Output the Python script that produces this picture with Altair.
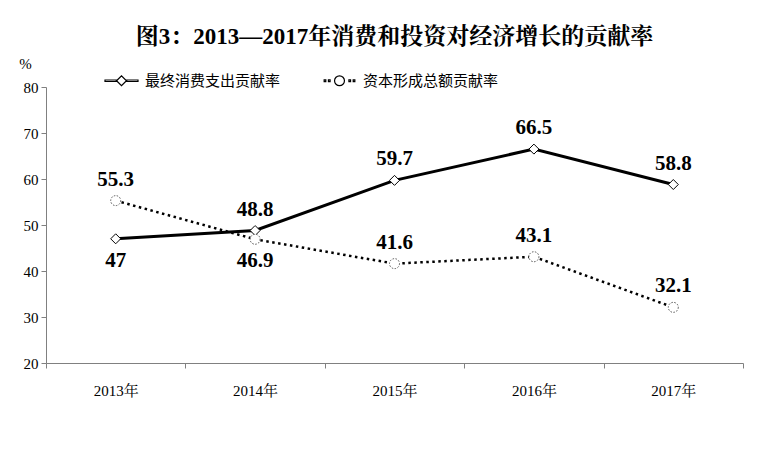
import altair as alt
import pandas as pd

years = ["2013年", "2014年", "2015年", "2016年", "2017年"]
consumption = [47, 48.8, 59.7, 66.5, 58.8]
capital = [55.3, 46.9, 41.6, 43.1, 32.1]
series_names = ["最终消费支出贡献率", "资本形成总额贡献率"]
# which value labels sit under their point
consumption_label_below = ["2013年"]
capital_label_below = ["2014年"]

rows = []
for y, v in zip(years, consumption):
    rows.append({"year": y, "series": series_names[0], "value": v,
                 "pos": "below" if y in consumption_label_below else "above"})
for y, v in zip(years, capital):
    rows.append({"year": y, "series": series_names[1], "value": v,
                 "pos": "below" if y in capital_label_below else "above"})
df = pd.DataFrame(rows)
legend_df = pd.DataFrame({"series": series_names})

SERIF = "Liberation Serif, Times New Roman, Noto Serif CJK SC, Noto Sans CJK SC, serif"

x_enc = alt.X("year:N", sort=years, bandPosition=0.5,
              scale=alt.Scale(type="band", paddingInner=0, paddingOuter=0),
              axis=alt.Axis(title=None, labelAngle=0, domainColor="#808080",
                            tickColor="#808080", tickSize=5, tickBand="extent",
                            labelFont=SERIF, labelFontSize=15, labelColor="black",
                            labelPadding=15, grid=False))
y_enc = alt.Y("value:Q", scale=alt.Scale(domain=[20, 80], nice=False),
              axis=alt.Axis(values=[20, 30, 40, 50, 60, 70, 80], grid=False,
                            domainColor="#808080", tickColor="#808080", tickSize=5,
                            labelFont=SERIF, labelFontSize=15, labelColor="black",
                            labelPadding=3, title="%", titleAngle=0, titleX=-21,
                            titleY=-24, titleFont=SERIF, titleFontWeight="normal",
                            titleFontSize=15, titleAlign="center",
                            titleBaseline="middle", titleColor="black"))

base = alt.Chart(df).encode(x=x_enc, y=y_enc)
cons = base.transform_filter(alt.datum.series == series_names[0])
capi = base.transform_filter(alt.datum.series == series_names[1])

cons_line = cons.mark_line(color="black", strokeWidth=3)
capi_line = capi.mark_line(color="black", strokeWidth=2.5, strokeDash=[2.5, 3.5])
cons_pts = cons.mark_point(shape="diamond", size=100, fill="white", stroke="black",
                           strokeWidth=1, opacity=1, filled=False)
capi_pts = capi.mark_point(shape="circle", size=100, fill="white", stroke="#555555",
                           strokeWidth=1, strokeDash=[1.5, 1.5], opacity=1, filled=False)

txt_kw = dict(font=SERIF, fontWeight="bold", fontSize=21,
              baseline="middle", color="black")
labels_above = base.transform_filter(alt.datum.pos == "above").mark_text(dy=-21, **txt_kw).encode(
    text=alt.Text("value:Q"))
labels_below = base.transform_filter(alt.datum.pos == "below").mark_text(dy=22, **txt_kw).encode(
    text=alt.Text("value:Q"))

# legend symbols: solid bar + diamond, and dots + circle (unit-square paths)
path_a = ("M-1,-0.045L-0.32,-0.045L-0.32,0.045L-1,0.045Z"
          "M0.32,-0.045L1,-0.045L1,0.045L0.32,0.045Z"
          "M-0.3,0L0,-0.3L0.3,0L0,0.3Z")
path_b = "".join("M{:.2f},-0.05h0.1v0.1h-0.1Z".format(c - 0.05)
                 for c in (-0.88, -0.62, 0.62, 0.88))
path_b += "M0.3,0A0.3,0.3,0,1,1,-0.3,0A0.3,0.3,0,1,1,0.3,0Z"

legend_layer = alt.Chart(legend_df).transform_filter(
    alt.datum.series == "__none__"
).mark_point(
    fill="white", stroke="black", strokeWidth=1.2, opacity=1, filled=False
).encode(
    shape=alt.Shape("series:N",
                    scale=alt.Scale(domain=series_names, range=[path_a, path_b]),
                    legend=alt.Legend(orient="none", legendX=58, legendY=-24,
                                      direction="horizontal", title=None,
                                      symbolSize=1089, labelFont="Noto Sans CJK SC",
                                      labelFontSize=15, labelColor="black",
                                      labelOffset=6, columnPadding=40,
                                      symbolStrokeWidth=1.2, labelLimit=300)),
)

chart = alt.layer(
    legend_layer, cons_line, capi_line, cons_pts, capi_pts, labels_above, labels_below
).properties(
    width=697, height=276,
    autosize=alt.AutoSizeParams(type="none"),
    padding={"left": 38, "top": 79, "right": 5, "bottom": 40},
    title=alt.Title("图3：2013—2017年消费和投资对经济增长的贡献率",
                    font=SERIF, fontSize=23, fontWeight="bold", anchor="middle",
                    frame="group", color="black", offset=7),
).configure(
    background="white",
    view=alt.ViewConfig(stroke="transparent", strokeWidth=0, strokeOpacity=0),
    style={"cell": {"stroke": "transparent", "strokeWidth": 0, "strokeOpacity": 0}},
    axis=alt.AxisConfig(grid=False),
)

chart.save("out.html", embed_options={"renderer": "svg", "actions": False})
